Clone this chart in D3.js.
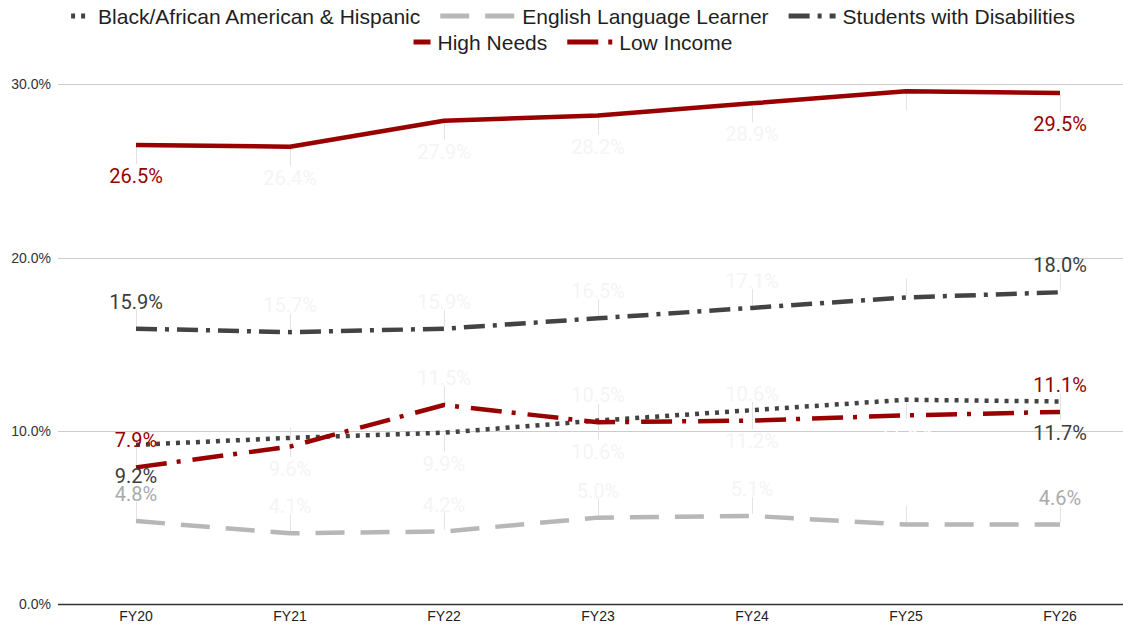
<!DOCTYPE html>
<html>
<head>
<meta charset="utf-8">
<script src="https://cdn.jsdelivr.net/npm/d3@7/dist/d3.min.js"></script>
<style>
  html, body { margin: 0; padding: 0; background: #fff; }
  svg { display: block; }
</style>
</head>
<body>
<svg id="chart" width="1123" height="625"></svg>
<script>
// Fiscal years on the x axis
const categories = ["FY20", "FY21", "FY22", "FY23", "FY24", "FY25", "FY26"];

// Share of students (%) per group
const blackHispanic  = [9.2, 9.6, 9.9, 10.6, 11.2, 11.8, 11.7];
const englishLearner = [4.8, 4.1, 4.2, 5.0, 5.1, 4.6, 4.6];
const disabilities   = [15.9, 15.7, 15.9, 16.5, 17.1, 17.7, 18.0];
const highNeeds      = [26.5, 26.4, 27.9, 28.2, 28.9, 29.6, 29.5];
const lowIncome      = [7.9, 9.1, 11.5, 10.5, 10.6, 10.9, 11.1];

const seriesNames = ["Black/African American & Hispanic", "English Language Learner",
                     "Students with Disabilities", "High Needs", "Low Income"];

const yTicks = [0, 10, 20, 30];

// Styling per series: colour, dash pattern, label side, legend swatch length, legend row
const series = [
  { name: seriesNames[0], values: blackHispanic,  color: "#434343", dash: "4,6",        width: 4.5, side: "below", swatch: 20, row: 0 },
  { name: seriesNames[1], values: englishLearner, color: "#b7b7b7", dash: "29,16",      width: 4.5, side: "above", swatch: 75, row: 0 },
  { name: seriesNames[2], values: disabilities,   color: "#434343", dash: "21,8,4,8",   width: 4.5, side: "above", swatch: 47, row: 0 },
  { name: seriesNames[3], values: highNeeds,      color: "#990000", dash: null,         width: 4.5, side: "below", swatch: 17, row: 1 },
  { name: seriesNames[4], values: lowIncome,      color: "#990000", dash: "31,10,4,12", width: 4.5, side: "above", swatch: 45, row: 1 }
];

const svg = d3.select("#chart");

const x = d3.scalePoint().domain(categories).range([136, 1060]);
const y = d3.scaleLinear().domain([0, 30]).range([604.3, 84.3]);

// Horizontal gridlines
svg.append("g")
  .selectAll("line")
  .data(yTicks.filter(d => d > 0))
  .join("line")
  .attr("x1", 58).attr("x2", 1123)
  .attr("y1", d => Math.round(y(d)) + 0.5).attr("y2", d => Math.round(y(d)) + 0.5)
  .attr("stroke", "#cccccc").attr("stroke-width", 1);

// Y axis labels
svg.append("g")
  .selectAll("text")
  .data(yTicks)
  .join("text")
  .attr("x", 51).attr("y", d => y(d))
  .attr("text-anchor", "end").attr("dominant-baseline", "central")
  .attr("font-family", "'Liberation Sans', Arial, sans-serif")
  .attr("font-size", 14).attr("fill", "#333")
  .text(d => d3.format(".1f")(d) + "%");

// Baseline
svg.append("line")
  .attr("x1", 58).attr("x2", 1123)
  .attr("y1", 604.5).attr("y2", 604.5)
  .attr("stroke", "#333").attr("stroke-width", 1.5);

// X axis labels
svg.append("g")
  .selectAll("text")
  .data(categories)
  .join("text")
  .attr("x", d => x(d)).attr("y", 621)
  .attr("text-anchor", "middle")
  .attr("font-family", "'Liberation Sans', Arial, sans-serif")
  .attr("font-size", 14).attr("fill", "#222")
  .text(d => d);

// Leader ticks from each point towards its label
const leaders = svg.append("g");
series.forEach(s => {
  leaders.selectAll(null)
    .data(s.values)
    .join("line")
    .attr("x1", (d, i) => Math.round(x(categories[i])) + 0.5)
    .attr("x2", (d, i) => Math.round(x(categories[i])) + 0.5)
    .attr("y1", d => s.side === "below" ? y(d) + 2 : y(d) - 2)
    .attr("y2", d => s.side === "below" ? y(d) + 19 : y(d) - 19)
    .attr("stroke", "#e3e3e3").attr("stroke-width", 1);
});

// Series lines
const line = d3.line()
  .x((d, i) => x(categories[i]))
  .y(d => y(d));

series.forEach(s => {
  svg.append("path")
    .datum(s.values)
    .attr("d", line)
    .attr("fill", "none")
    .attr("stroke", s.color)
    .attr("stroke-width", s.width)
    .attr("stroke-linejoin", "round")
    .attr("stroke-dasharray", s.dash);
});

// Data labels: first and last years are shown clearly, the middle years faintly,
// FY25 (and the crowded Low Income FY21 label) in white
function labelColor(s, i) {
  const last = categories.length - 1;
  if (i === 0 || i === last) {
    if (s.color === "#434343") return "#3c3c3c";
    if (s.color === "#b7b7b7") return "#aaaaaa";
    return s.color;
  }
  if (i === 5 || (s.name === "Low Income" && i === 1)) return "#ffffff";
  return "#f5f5f5";
}

series.forEach(s => {
  svg.append("g")
    .selectAll("text")
    .data(s.values)
    .join("text")
    .attr("x", (d, i) => x(categories[i]))
    .attr("y", d => s.side === "below" ? y(d) + 38 : y(d) - 20)
    .attr("text-anchor", "middle")
    .attr("font-family", "Roboto, sans-serif")
    .attr("font-size", 20)
    .attr("fill", (d, i) => labelColor(s, i))
    .text(d => d3.format(".1f")(d) + "%");
});

// Legend: two centred rows
const legend = svg.append("g");
const rowY = [16, 42];
const centreX = 573;
[0, 1].forEach(r => {
  const items = series.filter(s => s.row === r);
  const g = legend.append("g");
  let cx = 0;
  items.forEach((s, k) => {
    g.append("line")
      .attr("x1", cx).attr("x2", cx + s.swatch)
      .attr("y1", rowY[r]).attr("y2", rowY[r])
      .attr("stroke", s.color).attr("stroke-width", 5)
      .attr("stroke-dasharray", s.dash);
    cx += s.swatch + 7;
    const t = g.append("text")
      .attr("x", cx).attr("y", rowY[r])
      .attr("dominant-baseline", "central")
      .attr("font-family", "'Liberation Sans', Arial, sans-serif")
      .attr("font-size", 21).attr("fill", "#1f1f1f")
      .text(s.name);
    cx += t.node().getComputedTextLength();
    if (k < items.length - 1) cx += 20;
  });
  g.attr("transform", `translate(${centreX - cx / 2},0)`);
});
</script>
</body>
</html>
